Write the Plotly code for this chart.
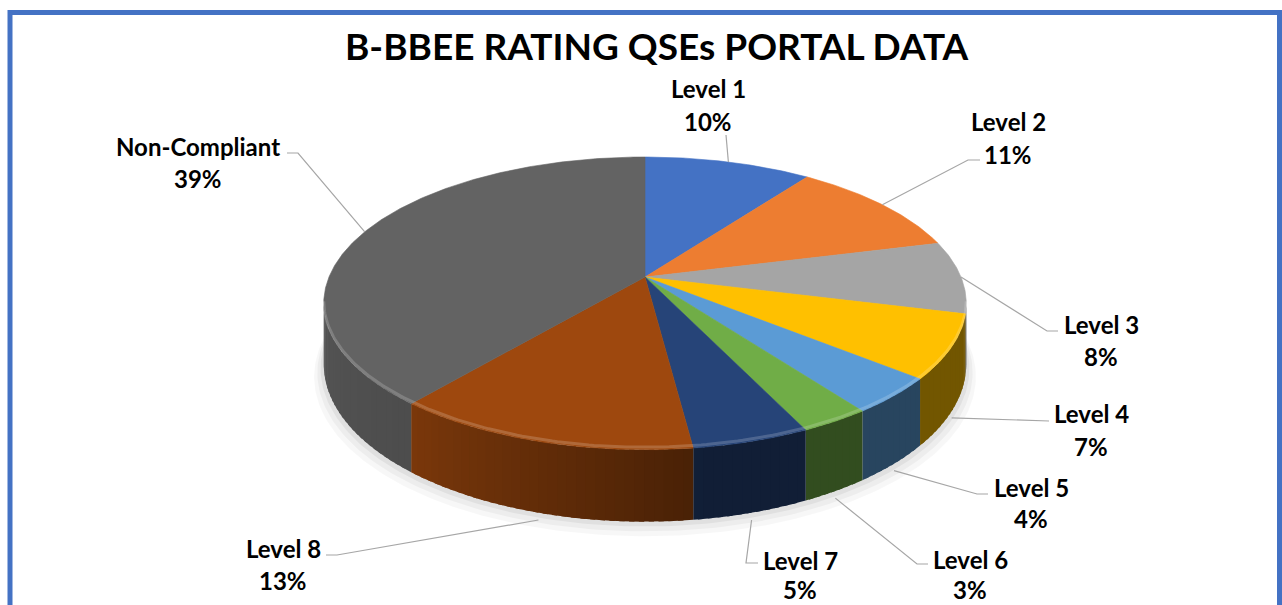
import numpy as np
import plotly.graph_objects as go

# ---------------- data ----------------
categories = ["Level 1", "Level 2", "Level 3", "Level 4", "Level 5",
              "Level 6", "Level 7", "Level 8", "Non-Compliant"]
values = [10, 11, 8, 7, 4, 3, 5, 13, 39]
colors = ["#4472C4", "#ED7D31", "#A5A5A5", "#FFC000", "#5B9BD5",
          "#70AD47", "#264478", "#9E480E", "#636363"]
title_text = "B-BBEE RATING QSEs PORTAL DATA"

# ---------------- layout / geometry (pixels) ----------------
W, HGT = 1282, 605
CX, CY = 645, 277          # pie apex
R, RY = 316, 141.6         # radii of the tilted disc
P = 0.18                   # perspective strength
THICK = 59                 # disc thickness
FONT = "Lato, 'Open Sans', sans-serif"
LABEL_SIZE = 24
TITLE_SIZE = 37

# label placement: name centre, percent centre, leader end, elbow
LABEL_POS = {
    "Level 1": dict(name=(708, 88), pct=(708, 121), end=(726, 135), elbow=None),
    "Level 2": dict(name=(1008, 121), pct=(1008, 154), end=(980, 160), elbow=(968, 160)),
    "Level 3": dict(name=(1101, 324), pct=(1101, 356), end=(1058, 331), elbow=(1047, 331)),
    "Level 4": dict(name=(1091, 413), pct=(1091, 446), end=(1049, 421), elbow=None),
    "Level 5": dict(name=(1031, 487), pct=(1031, 518), end=(988, 494), elbow=(977, 494)),
    "Level 6": dict(name=(970, 559), pct=(970, 589), end=(928, 564), elbow=(917, 564)),
    "Level 7": dict(name=(800, 560), pct=(800, 589), end=(758, 563), elbow=(746, 563)),
    "Level 8": dict(name=(283, 548), pct=(283, 580), end=(326, 555), elbow=(337, 555)),
    "Non-Compliant": dict(name=(198, 146), pct=(198, 178), end=(287, 153), elbow=(298, 153)),
}


def proj(theta_deg, drop=0.0):
    t = np.radians(theta_deg)
    X = np.sin(t)
    D = np.cos(t)
    w = 1.0 / (1.0 + P * D)
    return CX + R * X * w, CY - RY * D * w + drop * w


def shade(hex_color, f):
    h = hex_color.lstrip("#")
    r, g, b = (int(h[i:i + 2], 16) for i in (0, 2, 4))
    return "rgb(%d,%d,%d)" % (r * f, g * f, b * f)


def side_factor(t):
    return float(np.interp(t, [100, 170, 185, 220, 262], [0.45, 0.45, 0.55, 0.78, 0.86]))


total = float(sum(values))
starts = np.concatenate([[0.0], np.cumsum(values)[:-1]]) / total * 360.0
ends = np.cumsum(values) / total * 360.0

fig = go.Figure()

# soft shadow below the disc
ang = np.linspace(0, 360, 361)
for k, a in [(12, 0.03), (8, 0.04), (4, 0.05)]:
    xs, ys = proj(ang, THICK + k)
    xs = CX + (xs - CX) * (1 + k / 400.0)
    fig.add_trace(go.Scatter(x=xs, y=ys, fill="toself", mode="lines",
                             line=dict(width=0), fillcolor="rgba(0,0,0,%g)" % a,
                             hoverinfo="skip", showlegend=False))

# visible side walls (front part of the disc), shaded in narrow overlapping bands
th_s = np.degrees(np.arccos(-P))
vis0, vis1 = th_s, 360 - th_s
for cat, col, a0, a1 in zip(categories, colors, starts, ends):
    s0, s1 = max(a0, vis0), min(a1, vis1)
    if s1 <= s0:
        continue
    n = max(1, int(np.ceil((s1 - s0) / 1.5)))
    edges = np.linspace(s0, s1, n + 1)
    for i, (e0, e1) in enumerate(zip(edges[:-1], edges[1:])):
        e1x = min(s1, e1 + 0.8) if i < n - 1 else e1
        tt = np.linspace(e0, e1x, 5)
        xt, yt = proj(tt, 0)
        xb, yb = proj(tt[::-1], THICK)
        c = shade(col, side_factor((e0 + e1) / 2))
        fig.add_trace(go.Scatter(x=np.concatenate([xt, xb]), y=np.concatenate([yt, yb]),
                                 fill="toself", mode="lines", line=dict(width=0),
                                 fillcolor=c, hoverinfo="skip", showlegend=False))

# top faces
for cat, col, a0, a1 in zip(categories, colors, starts, ends):
    tt = np.linspace(a0, a1, max(3, int((a1 - a0) * 2)))
    xa, ya = proj(tt, 0)
    xs = np.concatenate([[CX], xa, [CX]])
    ys = np.concatenate([[CY], ya, [CY]])
    fig.add_trace(go.Scatter(x=xs, y=ys, fill="toself", mode="lines",
                             line=dict(width=0.6, color=col), fillcolor=col,
                             name=cat, showlegend=False, hoverinfo="name"))

# bevel highlight on the front rim
tt = np.linspace(vis0, vis1, 200)
xr, yr = proj(tt, -2)
fig.add_trace(go.Scatter(x=xr, y=yr, mode="lines",
                         line=dict(color="rgba(255,255,255,0.18)", width=3),
                         hoverinfo="skip", showlegend=False))

# leader lines and labels
for cat, v, a0, a1 in zip(categories, values, starts, ends):
    m = (a0 + a1) / 2
    if np.cos(np.radians(m)) < -P:
        ax_, ay_ = proj(m, THICK + 6)
    else:
        ax_, ay_ = proj(m, 0)
    lp = LABEL_POS[cat]
    pts = [lp["end"]] + ([lp["elbow"]] if lp["elbow"] else []) + [(ax_, ay_)]
    fig.add_trace(go.Scatter(x=[p[0] for p in pts], y=[p[1] for p in pts], mode="lines",
                             line=dict(color="#A6A6A6", width=1.2),
                             hoverinfo="skip", showlegend=False))
    pct = "%d%%" % round(v / total * 100)
    for txt, pos in ((cat, lp["name"]), (pct, lp["pct"])):
        fig.add_annotation(x=pos[0], y=pos[1], text="<b>%s</b>" % txt, showarrow=False,
                           xanchor="center", yanchor="middle", borderpad=0,
                           font=dict(family=FONT, size=LABEL_SIZE, color="#000000"))

# title
fig.add_annotation(x=657, y=45, text="<b>%s</b>" % title_text, showarrow=False,
                   xanchor="center", yanchor="middle",
                   font=dict(family=FONT, size=TITLE_SIZE, color="#000000"))

# chart frame
fig.add_shape(type="rect", x0=10, y0=12.5, x1=1279.5, y1=640,
              line=dict(color="#4472C4", width=5), layer="above")

fig.update_layout(
    width=W, height=HGT, margin=dict(l=0, r=0, t=0, b=0),
    paper_bgcolor="white", plot_bgcolor="white",
    xaxis=dict(range=[0, W], visible=False, fixedrange=True),
    yaxis=dict(range=[HGT, 0], visible=False, fixedrange=True),
    showlegend=False,
)

fig.write_html("out.html", config={"displayModeBar": False},
               post_script="document.body.style.margin='0';")
